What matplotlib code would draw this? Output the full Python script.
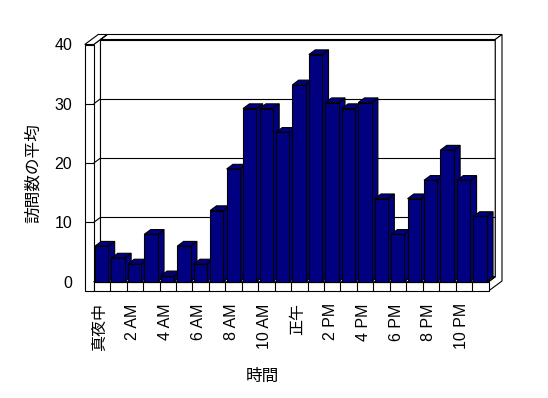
"""Average visits per hour, drawn as an Excel-style 3D column chart."""

import matplotlib

matplotlib.use("Agg")
import matplotlib.pyplot as plt
from matplotlib.patches import Polygon
import numpy as np

plt.rcParams["font.family"] = ["Liberation Sans", "Noto Sans CJK JP"]

HOURS = list(range(24))
VISITS = [6, 4, 3, 8, 1, 6, 3, 12, 19, 29.2, 29.2, 25.2, 33.2, 38.3,
          30.2, 29.2, 30.2, 14, 8, 14, 17.1, 22.2, 17.1, 11]
TICK_LABELS = ["真夜中", "2 AM", "4 AM", "6 AM", "8 AM", "10 AM",
               "正午", "2 PM", "4 PM", "6 PM", "8 PM", "10 PM"]
Y_TICKS = [0, 10, 20, 30, 40]
X_LABEL = "時間"
Y_LABEL = "訪問数の平均"

BAR_COLOR = "#000080"
W, H, DPI = 5.48, 3.98, 100

fig = plt.figure(figsize=(W, H), dpi=DPI)
# front plane of the box: x 0..24 categories, y 0..40
ax = fig.add_axes([93.7 / 548, 116.3 / 398, 394.8 / 548, 237.2 / 398])
ax.set_xlim(0, len(HOURS))
ax.set_ylim(0, 40)
for s in ax.spines.values():
    s.set_visible(False)

# oblique depth: one depth unit = 1 px up and SLANT px right
SLANT = 1.35
px_x = W * DPI * ax.get_position().width / len(HOURS)
px_y = H * DPI * ax.get_position().height / 40
Z_IN, Z_OUT, Z_BAR = 5.0, 10.0, 4.7
WALL = 9 / px_x          # left wall thickness in categories
FLOOR = 9.3 / px_y       # floor thickness in value units
TOP = Y_TICKS[-1]
N = len(HOURS)


def P(x, y, z=0.0):
    return (x + z * SLANT / px_x, y + z / px_y)


def face(pts, fc="white", z=1, lw=0.8):
    ax.add_patch(Polygon(pts, closed=True, facecolor=fc, edgecolor="black",
                         linewidth=lw, clip_on=False, zorder=z, joinstyle="miter"))


def seg(a, b, z=1.5):
    ax.plot([a[0], b[0]], [a[1], b[1]], color="black", lw=0.8,
            clip_on=False, zorder=z, solid_capstyle="butt")


# back wall and its slab edges
face([P(0, 0, Z_IN), P(N, 0, Z_IN), P(N, TOP, Z_IN), P(0, TOP, Z_IN)])
face([P(0, TOP, Z_IN), P(N, TOP, Z_IN), P(N, TOP, Z_OUT), P(0, TOP, Z_OUT)])
face([P(N, -FLOOR, 0), P(N, 0, 0), P(N, 0, Z_IN), P(N, TOP, Z_IN),
      P(N, TOP, Z_OUT), P(N, -FLOOR, Z_OUT)])
seg(P(N, 0, Z_IN), P(N, 0, 0))
# left wall: inner face, top, front
face([P(0, 0, 0), P(0, TOP, 0), P(0, TOP, Z_IN), P(0, 0, Z_IN)])
face([P(-WALL, TOP, 0), P(0, TOP, 0), P(0, TOP, Z_IN), P(0, TOP, Z_OUT),
      P(-WALL, TOP, Z_OUT)])
seg(P(0, TOP, Z_IN), P(0, TOP, Z_OUT))
face([P(-WALL, -FLOOR), P(0, -FLOOR), P(0, TOP), P(-WALL, TOP)])
# floor top and front
face([P(0, 0, 0), P(N, 0, 0), P(N, 0, Z_IN), P(0, 0, Z_IN)])
face([P(0, -FLOOR), P(N, -FLOOR), P(N, 0), P(0, 0)])
for k in range(1, N):
    seg(P(k, -FLOOR), P(k, 0))

# gridlines wrap across left wall front, its inner face and the back wall
for v in Y_TICKS[1:-1]:
    seg(P(-WALL, v), P(0, v))
    seg(P(0, v), P(0, v, Z_IN))
    seg(P(0, v, Z_IN), P(N, v, Z_IN))

# bars
x0 = np.array(HOURS) + 0.08
bw = 0.81
bars = ax.bar(x0, VISITS, width=bw, align="edge", color=BAR_COLOR,
              edgecolor="black", linewidth=0.8)
for i, (rect, v) in enumerate(zip(bars, VISITS)):
    xl, xr = x0[i], x0[i] + bw
    zb = 10 + 3 * i
    face([P(xr, 0), P(xr, 0, Z_BAR), P(xr, v, Z_BAR), P(xr, v)], BAR_COLOR, zb)
    face([P(xl, v), P(xr, v), P(xr, v, Z_BAR), P(xl, v, Z_BAR)], BAR_COLOR, zb + 1)
    rect.set_zorder(zb + 2)
    rect.set_clip_on(False)

ax.set_yticks(Y_TICKS)
ax.set_yticklabels([str(t) for t in Y_TICKS])
ax.set_xticks(np.arange(0, N, 2) + 0.38)
ax.set_xticklabels(TICK_LABELS, rotation=90)
ax.tick_params(axis="y", length=0, pad=15.5, labelsize=11.5)
ax.tick_params(axis="x", length=0, pad=15.5, labelsize=11.5)

fig.text(33 / 548, 1 - 173 / 398, Y_LABEL, rotation=90, ha="center",
         va="center", fontsize=12)
fig.text(262 / 548, 1 - 376 / 398, X_LABEL, ha="center", va="center",
         fontsize=12)

fig.savefig("out.png", dpi=DPI)
